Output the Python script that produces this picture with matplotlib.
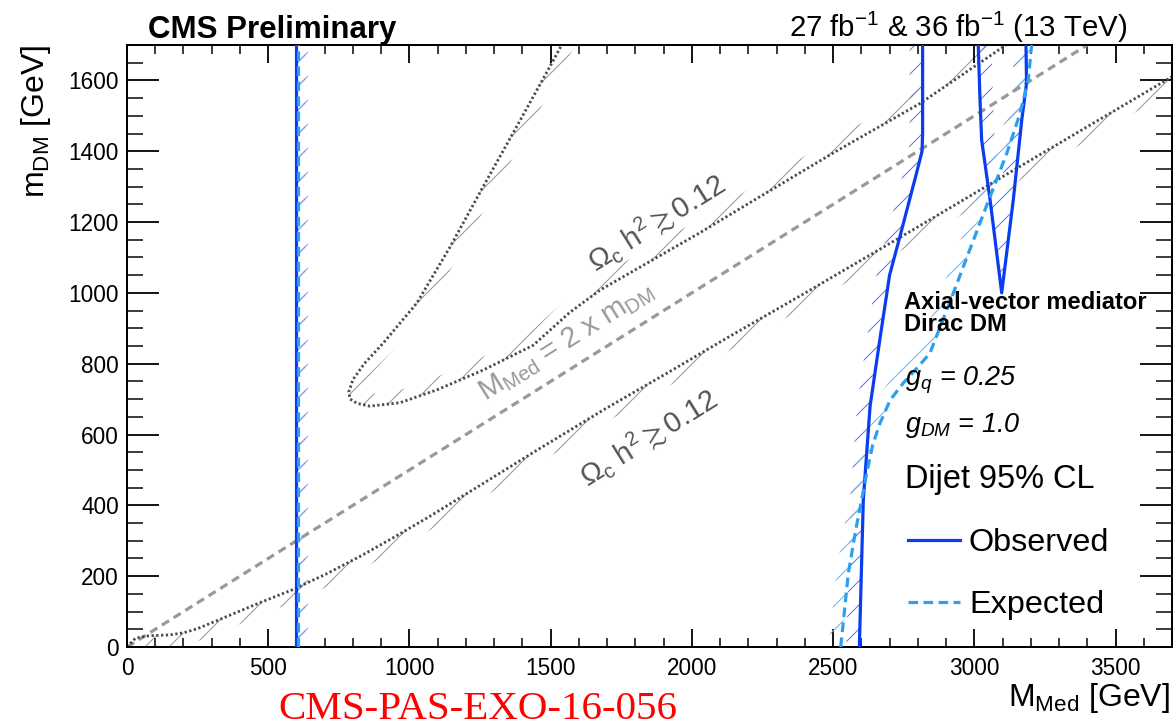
import numpy as np
import matplotlib
matplotlib.use("Agg")
import matplotlib.pyplot as plt
from matplotlib.patches import Polygon
from matplotlib.ticker import MultipleLocator

# ---------------- data ----------------
# Observed limit, low-mass vertical edge
obs_low_x = [600, 600]
obs_low_y = [0, 1700]
# Expected limit, low-mass vertical edge
exp_low_x = [605, 605]
exp_low_y = [0, 1700]
# Observed limit, high-mass edge
obs_hi_x = [2593, 2607, 2631, 2664, 2700, 2737, 2796, 2815, 2817, 2817]
obs_hi_y = [0, 415, 680, 860, 1050, 1160, 1340, 1400, 1450, 1700]
# Observed limit, island (V shape)
obs_v_x = [3014, 3020, 3026, 3056, 3097, 3138, 3168, 3185, 3183]
obs_v_y = [1700, 1550, 1432, 1262, 1000, 1262, 1488, 1592, 1700]
# Expected limit, high-mass edge
exp_hi_x = [2527, 2540, 2554, 2580, 2601, 2619, 2640, 2666, 2702, 2748,
            2800, 2843, 2926, 2997, 3056, 3115, 3162, 3191, 3203]
exp_hi_y = [0, 100, 208, 330, 415, 491, 570, 632, 697, 745,
            790, 830, 1000, 1149, 1272, 1394, 1507, 1601, 1700]
# Relic density contour (lower)
relic_lo_x = [0, 30, 80, 150, 200, 250, 350, 470, 590, 710, 830, 950, 1070,
              1180, 1450, 1690, 1920, 2140, 2380, 2740, 3100, 3680, 3750]
relic_lo_y = [0, 25, 32, 34, 40, 52, 85, 125, 163, 208, 258, 312, 368,
              422, 555, 671, 777, 880, 990, 1158, 1328, 1601, 1634]
# Relic density contour (upper tongue)
relic_up_x = [1560, 1539, 1498, 1380, 1261, 1144, 1026, 907, 840, 800, 785,
              790, 815, 860, 967, 1097, 1261, 1438, 1568, 1675, 2029, 2206,
              2500, 2808, 3138]
relic_up_y = [1730, 1700, 1640, 1470, 1300, 1130, 971, 858, 800, 755, 720,
              700, 688, 680, 690, 726, 782, 852, 945, 1008, 1170, 1255,
              1395, 1535, 1714]
# M_Med = 2 x m_DM line
diag_x = [0, 3700]
diag_y = [0, 1850]

x_lim = (0, 3700)
y_lim = (0, 1700)

# ---------------- figure setup ----------------
DPI = 72
W, H = 1173, 727


def pt(px):
    return px * 72.0 / DPI


plt.rcParams['font.family'] = ['Liberation Sans', 'DejaVu Sans']
plt.rcParams['mathtext.fontset'] = 'custom'
plt.rcParams['mathtext.rm'] = 'Liberation Sans'
plt.rcParams['mathtext.it'] = 'Liberation Sans:italic'
plt.rcParams['mathtext.bf'] = 'Liberation Sans:bold'
plt.rcParams['mathtext.sf'] = 'Liberation Sans'
plt.rcParams['mathtext.fallback'] = 'stixsans'
plt.rcParams['hatch.linewidth'] = pt(1.05)

fig = plt.figure(figsize=(W / DPI, H / DPI), dpi=DPI)
ax = fig.add_axes([127 / W, 1 - 647 / H, 1045 / W, 602 / H])
ax.set_xlim(*x_lim)
ax.set_ylim(*y_lim)


def band(x, y, width_px, side, color, z):
    pts = ax.transData.transform(np.column_stack([x, y]).astype(float))
    d = np.gradient(pts, axis=0)
    n = np.column_stack([-d[:, 1], d[:, 0]])
    n /= np.linalg.norm(n, axis=1)[:, None]
    off = pts + side * width_px * n
    poly = np.vstack([pts, off[::-1]])
    data = ax.transData.inverted().transform(poly)
    ax.add_patch(Polygon(data, closed=True, facecolor='none', edgecolor=color,
                         lw=0, hatch='/', zorder=z))


GRAY_H = '#999999'
OBS_C = '#0a3cf0'
EXP_C = '#2aa0f0'
OBS_H = '#5f78ea'
EXP_H = '#6cb4f4'

# hatched bands
band(relic_lo_x, relic_lo_y, 12, -1, GRAY_H, 1.5)
band(relic_up_x, relic_up_y, 12, +1, GRAY_H, 1.5)
band(obs_low_x, obs_low_y, 10, -1, OBS_H, 1.6)
band(exp_low_x, exp_low_y, 10, -1, EXP_H, 1.6)
band(obs_hi_x, obs_hi_y, 13, +1, OBS_H, 1.6)
band(obs_v_x, obs_v_y, 13, +1, OBS_H, 1.6)
band(exp_hi_x, exp_hi_y, 12, +1, EXP_H, 1.6)

# lines
ax.plot(diag_x, diag_y, color='#999999', lw=pt(3.2), ls=(0, (2.6, 1.7)), zorder=2)
ax.plot(relic_lo_x, relic_lo_y, color='#4a4a4a', lw=pt(2.8), ls=(0, (0.8, 0.9)), zorder=2.2)
ax.plot(relic_up_x, relic_up_y, color='#4a4a4a', lw=pt(2.8), ls=(0, (0.8, 0.9)), zorder=2.2)

h_obs, = ax.plot(obs_low_x, obs_low_y, color=OBS_C, lw=pt(3.2), zorder=3)
ax.plot(obs_hi_x, obs_hi_y, color=OBS_C, lw=pt(3.2), zorder=3)
ax.plot(obs_v_x, obs_v_y, color=OBS_C, lw=pt(3.2), zorder=3)
h_exp, = ax.plot(exp_low_x, exp_low_y, color=EXP_C, lw=pt(3.2), ls=(0, (3.0, 1.7)), zorder=3.1)
ax.plot(exp_hi_x, exp_hi_y, color=EXP_C, lw=pt(3.2), ls=(0, (3.0, 1.7)), zorder=3.1)

# axes style
for s in ax.spines.values():
    s.set_linewidth(pt(2.0))
ax.xaxis.set_major_locator(MultipleLocator(500))
ax.xaxis.set_minor_locator(MultipleLocator(100))
ax.yaxis.set_major_locator(MultipleLocator(200))
ax.yaxis.set_minor_locator(MultipleLocator(50))
ax.tick_params(axis='x', which='major', direction='in', length=pt(18), width=pt(1.8),
               top=True, labelsize=pt(22.5), pad=pt(10))
ax.tick_params(axis='x', which='minor', direction='in', length=pt(9), width=pt(1.5), top=True)
ax.tick_params(axis='y', which='major', direction='in', length=pt(32), width=pt(1.8),
               right=True, labelsize=pt(22.5), pad=pt(8))
ax.tick_params(axis='y', which='minor', direction='in', length=pt(16), width=pt(1.5), right=True)


def ftext(px, py, s, **kw):
    fig.text(px / W, 1 - py / H, s, **kw)


ftext(148, 38, 'CMS Preliminary', fontsize=pt(31.3), fontweight='bold', ha='left', va='baseline')
ftext(1127, 37, r'27 fb$^{-1}$ & 36 fb$^{-1}$ (13 TeV)', fontsize=pt(29.4), ha='right', va='baseline')
ftext(1170, 706, r'M$_{\mathrm{Med}}$ [GeV]', fontsize=pt(32), ha='right', va='baseline')
ftext(44, 45, r'm$_{\mathrm{DM}}$ [GeV]', fontsize=pt(32), rotation=90,
      rotation_mode='anchor', ha='right', va='baseline')

ftext(904, 309, 'Axial-vector mediator', fontsize=pt(23.7), fontweight='bold', ha='left', va='baseline')
ftext(904, 331, 'Dirac DM', fontsize=pt(23.7), fontweight='bold', ha='left', va='baseline')
ftext(905, 386, r'g$_{\mathit{q}}$ = 0.25', fontsize=pt(27), style='italic', ha='left', va='baseline')
ftext(905, 432, r'g$_{\mathit{DM}}$ = 1.0', fontsize=pt(27), style='italic', ha='left', va='baseline')
ftext(905, 488, 'Dijet 95% CL', fontsize=pt(32.5), ha='left', va='baseline')

ftext(656, 222, r'$\Omega_{\mathrm{c}}\ \mathrm{h}^{2} \gtrsim 0.12$', fontsize=pt(29), color='#555555',
      rotation=32, rotation_mode='anchor', ha='center', va='center')
ftext(648, 437, r'$\Omega_{\mathrm{c}}\ \mathrm{h}^{2} \gtrsim 0.12$', fontsize=pt(29), color='#555555',
      rotation=32, rotation_mode='anchor', ha='center', va='center')
ftext(566, 342, r'M$_{\mathrm{Med}}$ = 2 x m$_{\mathrm{DM}}$', fontsize=pt(29), color='#999999',
      rotation=32, rotation_mode='anchor', ha='center', va='center')

ftext(278, 719, 'CMS-PAS-EXO-16-056', fontsize=pt(41), color='red',
      family='Liberation Serif', ha='left', va='baseline')

ax.legend([h_obs, h_exp], ['Observed', 'Expected'], loc='upper left',
          bbox_to_anchor=((908 - 127) / 1045, (647 - 528) / 602),
          frameon=False, fontsize=pt(32.4), handlelength=52 / 32.4, handletextpad=9 / 32.4,
          labelspacing=1.0, borderpad=0, borderaxespad=0)

fig.savefig('out.png', dpi=DPI)
